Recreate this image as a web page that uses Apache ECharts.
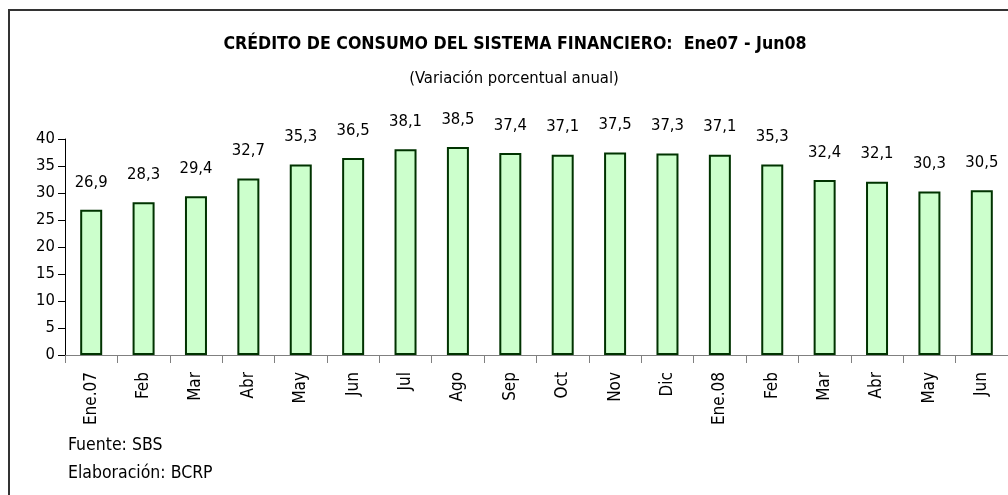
<!DOCTYPE html>
<html>
<head>
<meta charset="utf-8">
<script src="https://cdn.jsdelivr.net/npm/echarts@6/dist/echarts.min.js"></script>
<style>
html,body{margin:0;padding:0;background:#fff;}
#chart{width:1008px;height:495px;}
</style>
</head>
<body>
<div id="chart"></div>
<script>
const categories = ['Ene.07','Feb','Mar','Abr','May','Jun','Jul','Ago','Sep','Oct','Nov','Dic','Ene.08','Feb','Mar','Abr','May','Jun'];
const values = [26.9,28.3,29.4,32.7,35.3,36.5,38.1,38.5,37.4,37.1,37.5,37.3,37.1,35.3,32.4,32.1,30.3,30.5];
const titleText = 'CRÉDITO DE CONSUMO DEL SISTEMA FINANCIERO:  Ene07 - Jun08';
const subtitleText = '(Variación porcentual anual)';
const sourceText = 'Fuente: SBS';
const authorText = 'Elaboración: BCRP';

const FONT = '"Liberation Sans Narrow", "DejaVu Sans Condensed", "Arial Narrow", sans-serif';
const chart = echarts.init(document.getElementById('chart'));
chart.setOption({
  animation: false,
  backgroundColor: '#fff',
  textStyle: { fontFamily: FONT },
  title: [
    { text: titleText, left: 510, top: 30, textAlign: 'center',
      textStyle: { fontFamily: FONT, fontSize: 17.6, fontWeight: 'bold', color: '#000' } },
    { text: subtitleText, left: 509, top: 65, textAlign: 'center',
      textStyle: { fontFamily: FONT, fontSize: 16.5, fontWeight: 'normal', color: '#000' } }
  ],
  grid: { left: 65, right: -13, top: 139, bottom: 140, containLabel: false },
  xAxis: {
    type: 'category',
    data: categories,
    boundaryGap: true,
    axisLine: { lineStyle: { color: '#808080', width: 1 } },
    axisTick: { show: true, length: 8, alignWithLabel: false, lineStyle: { color: '#808080' } },
    axisLabel: { rotate: 90, margin: 17, interval: 0, fontFamily: FONT, fontSize: 17, color: '#000' }
  },
  yAxis: {
    type: 'value',
    min: 0, max: 40, interval: 5,
    axisLine: { show: true, lineStyle: { color: '#000', width: 1 } },
    axisTick: { show: true, length: 7, lineStyle: { color: '#000' } },
    splitLine: { show: false },
    axisLabel: { margin: 10, fontFamily: FONT, fontSize: 16.5, color: '#000' }
  },
  series: [{
    type: 'bar',
    data: values,
    barWidth: 22,
    itemStyle: { color: '#CCFFCC', borderColor: '#003300', borderWidth: 2 },
    label: {
      show: true, position: 'top', distance: 19,
      fontFamily: FONT, fontSize: 16.5, color: '#000',
      formatter: p => String(p.value).replace('.', ',')
    }
  }],
  graphic: [
    { type: 'rect', shape: { x: 9, y: 10, width: 1100, height: 600 },
      style: { fill: 'none', stroke: '#333', lineWidth: 2 }, silent: true },
    { type: 'text', left: 68, top: 436,
      style: { text: sourceText, font: '17.5px ' + FONT, fill: '#000' } },
    { type: 'text', left: 68, top: 464,
      style: { text: authorText, font: '17.5px ' + FONT, fill: '#000' } }
  ]
});
</script>
</body>
</html>
